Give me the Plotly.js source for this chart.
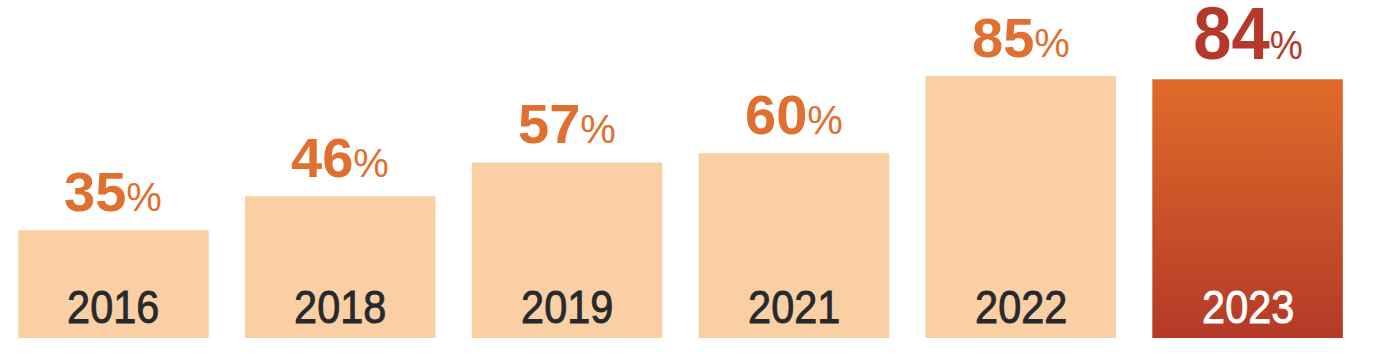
<!DOCTYPE html>
<html>
<head>
<meta charset="utf-8">
<script src="https://cdn.plot.ly/plotly-3.0.1.min.js"></script>
<style>
html,body{margin:0;padding:0;background:#fff;}
#chart{width:1382px;height:354px;}
</style>
</head>
<body>
<div id="chart"></div>
<script>
const years = ['2016', '2018', '2019', '2021', '2022', '2023'];
const values = [35, 46, 57, 60, 85, 84];
const valueLabels = ['35', '46', '57', '60', '85', '84'];

const peach = '#FBCFA4';
const orange = '#E0702F';
const darkRed = '#B5392A';
const highlightIndex = 5;

const barColors = years.map((y, i) => i === highlightIndex ? '#CC5A2C' : peach);

const trace = {
  type: 'bar',
  x: years,
  y: values,
  marker: {color: barColors, line: {width: 0}},
  hoverinfo: 'skip',
  width: 0.84
};

const annotations = [];
years.forEach((yr, i) => {
  const hl = i === highlightIndex;
  annotations.push({
    name: 'val',
    x: i, y: values[i], xref: 'x', yref: 'y',
    xanchor: 'center', yanchor: 'bottom',
    yshift: hl ? 2 : 5,
    showarrow: false,
    text: '<b>' + valueLabels[i] + '</b><span style="font-size:40px">%</span>',
    font: {family: 'Liberation Sans, Arial, sans-serif', size: hl ? 74 : 56, color: hl ? darkRed : orange}
  });
  annotations.push({
    name: 'year',
    x: i, y: 0, xref: 'x', yref: 'y',
    xanchor: 'center', yanchor: 'bottom',
    yshift: 3,
    showarrow: false,
    text: yr,
    font: {family: 'Liberation Sans, Arial, sans-serif', size: 46, color: hl ? '#FFFFFF' : '#262A2E'}
  });
});

const layout = {
  width: 1382, height: 354,
  margin: {l: 0, r: 21, t: 0, b: 16, pad: 0},
  paper_bgcolor: '#FFFFFF', plot_bgcolor: '#FFFFFF',
  showlegend: false,
  xaxis: {type: 'category', range: [-0.5, 5.5], showticklabels: false, showgrid: false, zeroline: false, showline: false, ticks: ''},
  yaxis: {range: [0, 109.7], showticklabels: false, showgrid: false, zeroline: false, showline: false, ticks: ''},
  annotations: annotations
};

function condense(textEl, sx) {
  const bb = textEl.getBBox();
  const cx = bb.x + bb.width / 2;
  textEl.setAttribute('transform', 'translate(' + cx + ',0) scale(' + sx + ',1) translate(' + (-cx) + ',0)');
}

Plotly.newPlot('chart', [trace], layout, {staticPlot: true, displayModeBar: false}).then(gd => {
  const svg = gd.querySelector('svg.main-svg');
  const ns = 'http://www.w3.org/2000/svg';
  let defs = svg.querySelector('defs');
  if (!defs) { defs = document.createElementNS(ns, 'defs'); svg.insertBefore(defs, svg.firstChild); }
  const grad = document.createElementNS(ns, 'linearGradient');
  grad.setAttribute('id', 'barGrad2023');
  grad.setAttribute('x1', '0'); grad.setAttribute('y1', '0');
  grad.setAttribute('x2', '0'); grad.setAttribute('y2', '1');
  [['0%', '#E06B2A'], ['100%', '#B43A27']].forEach(([o, c]) => {
    const s = document.createElementNS(ns, 'stop');
    s.setAttribute('offset', o); s.setAttribute('stop-color', c);
    grad.appendChild(s);
  });
  defs.appendChild(grad);
  const paths = gd.querySelectorAll('.barlayer .point path');
  if (paths[highlightIndex]) paths[highlightIndex].style.fill = 'url(#barGrad2023)';

  const annTexts = gd.querySelectorAll('.annotation text.annotation-text');
  annTexts.forEach((t, k) => {
    const isYear = k % 2 === 1;
    const i = Math.floor(k / 2);
    if (isYear) {
      condense(t, 0.9);
      t.style.stroke = i === highlightIndex ? '#FFFFFF' : '#262A2E';
      t.style.strokeWidth = '0.9px';
    } else if (i === highlightIndex) condense(t, 0.93);
  });
});
</script>
</body>
</html>
